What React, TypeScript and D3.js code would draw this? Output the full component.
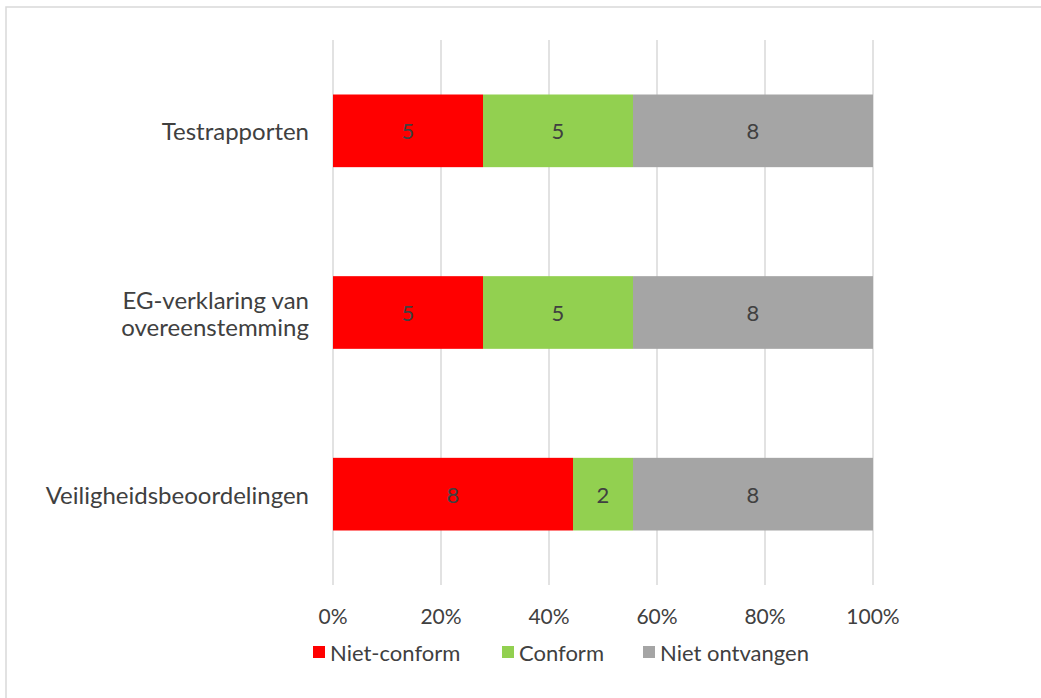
import React from "react";
import * as d3 from "d3";

const categories = ["Testrapporten", "EG-verklaring van overeenstemming", "Veiligheidsbeoordelingen"];
const categoryLines = [["Testrapporten"], ["EG-verklaring van", "overeenstemming"], ["Veiligheidsbeoordelingen"]];
const seriesNames = ["Niet-conform", "Conform", "Niet ontvangen"];
const nietConform = [5, 5, 8];
const conform = [5, 5, 2];
const nietOntvangen = [8, 8, 8];
const seriesColors = ["#FF0000", "#92D050", "#A5A5A5"];
const tickValues = [0, 0.2, 0.4, 0.6, 0.8, 1];

const W = 1041;
const H = 698;
const FONT = "Lato, Calibri, 'Open Sans', sans-serif";
const TEXT = "#404040";

export default function App() {
  const x = d3.scaleLinear().domain([0, 1]).range([333, 873]);
  const y = d3.scaleBand().domain(categories).range([40, 585]).paddingInner(0.6).paddingOuter(0.3);

  const rows = categories.map((c, i) => ({
    cat: c,
    vals: [nietConform[i], conform[i], nietOntvangen[i]],
  }));
  const stackData = rows.map((r) => {
    const total = d3.sum(r.vals);
    return { cat: r.cat, s0: r.vals[0] / total, s1: r.vals[1] / total, s2: r.vals[2] / total, raw: r.vals };
  });
  const stack = d3.stack<any>().keys(["s0", "s1", "s2"]);
  const stacked = stack(stackData);

  const legendX = [313, 502, 643];

  return (
    <svg width={W} height={H} style={{ position: "absolute", left: 0, top: 0, display: "block" }} fontFamily={FONT}>
      <rect x={0} y={0} width={W} height={H} fill="#fff" />
      <rect x={6} y={7} width={1200} height={900} fill="#fff" stroke="#D9D9D9" strokeWidth={1.5} />
      {tickValues.map((t) => (
        <line key={t} x1={x(t)} x2={x(t)} y1={40} y2={585} stroke="#D9D9D9" strokeWidth={1.5} />
      ))}
      {stacked.map((layer, si) => (
        <g key={si}>
          {layer.map((d, i) => (
            <g key={i}>
              <rect
                x={x(d[0])}
                y={y(categories[i])!}
                width={x(d[1]) - x(d[0])}
                height={y.bandwidth()}
                fill={seriesColors[si]}
              />
              <text
                x={(x(d[0]) + x(d[1])) / 2}
                y={y(categories[i])! + y.bandwidth() / 2}
                textAnchor="middle"
                dominantBaseline="central"
                fontSize={22}
                fill={TEXT}
              >
                {stackData[i].raw[si]}
              </text>
            </g>
          ))}
        </g>
      ))}
      {categoryLines.map((lines, i) => {
        const cy = y(categories[i])! + y.bandwidth() / 2;
        const lh = 27;
        const start = cy - ((lines.length - 1) * lh) / 2;
        return (
          <text key={i} textAnchor="end" fontSize={24} fill={TEXT}>
            {lines.map((l, j) => (
              <tspan key={j} x={309} y={start + j * lh} dominantBaseline="central">
                {l}
              </tspan>
            ))}
          </text>
        );
      })}
      {tickValues.map((t) => (
        <text key={t} x={x(t)} y={615} textAnchor="middle" dominantBaseline="central" fontSize={21} fill={TEXT}>
          {d3.format(".0%")(t)}
        </text>
      ))}
      {seriesNames.map((n, i) => (
        <g key={n}>
          <rect x={legendX[i]} y={646} width={12} height={12} fill={seriesColors[i]} />
          <text x={legendX[i] + 17} y={652} dominantBaseline="central" fontSize={22} fill={TEXT}>
            {n}
          </text>
        </g>
      ))}
    </svg>
  );
}
